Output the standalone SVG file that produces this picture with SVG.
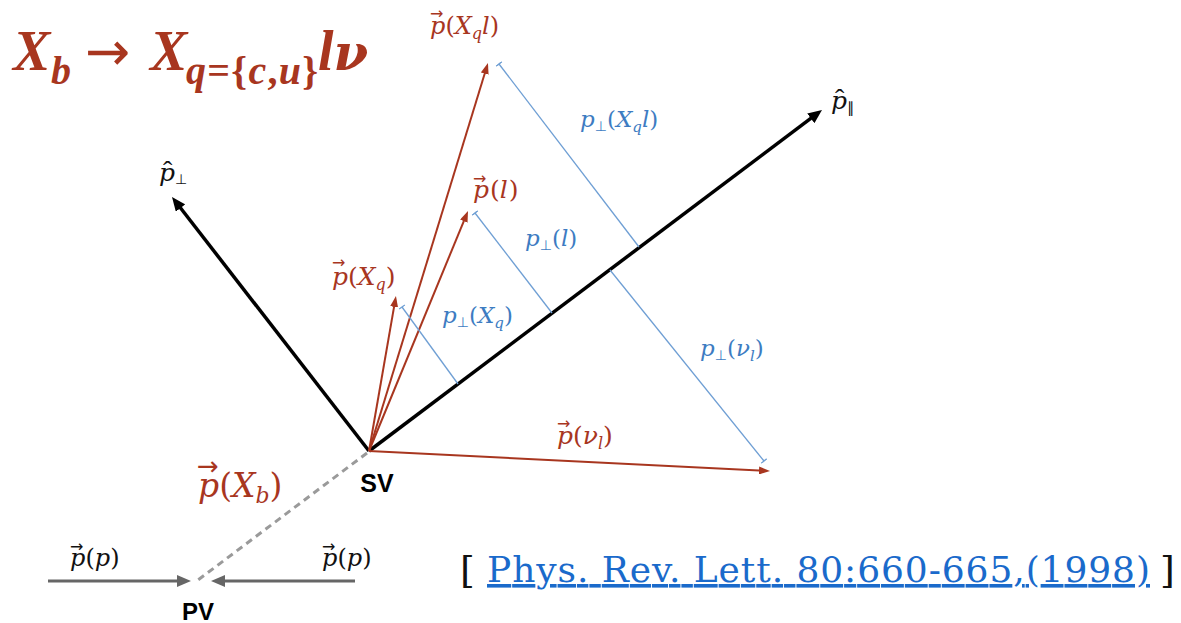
<svg xmlns="http://www.w3.org/2000/svg" width="1181" height="623" viewBox="0 0 1181 623">
<style>
.m{font-family:"DejaVu Serif","Liberation Serif",serif;font-style:italic}
.u{font-style:normal}
.r{fill:#a8361f}
.bl{fill:#3d7cc2}
.k{fill:#111}
.va{font-family:"DejaVu Sans",sans-serif;font-style:normal;font-size:16px}
.sb{font-family:"DejaVu Sans",sans-serif;font-style:normal;font-size:14px}
.ht{font-family:"Liberation Serif",serif;font-style:normal;font-size:28px}
.sv{font-family:"Liberation Sans",Arial,sans-serif;font-weight:bold;fill:#000}
.ax{stroke:#000;stroke-width:3.5;fill:none}
.rv{stroke:#a8361f;stroke-width:2;fill:none}
.pl{stroke:#6f9fd4;stroke-width:1.3;fill:none}
.gy{stroke:#666;stroke-width:3;fill:none}
</style>
<defs>
<marker id="ak" viewBox="0 0 14 12" refX="7" refY="6" markerWidth="14" markerHeight="12" orient="auto" markerUnits="userSpaceOnUse"><path d="M0,0 L14,6 L0,12 z" fill="#000"/></marker>
<marker id="ar" viewBox="0 0 11 8" refX="6" refY="4" markerWidth="11" markerHeight="8" orient="auto" markerUnits="userSpaceOnUse"><path d="M0,0 L11,4 L0,8 z" fill="#a8361f"/></marker>
<marker id="ag" viewBox="0 0 14 12" refX="7" refY="6" markerWidth="14" markerHeight="12" orient="auto" markerUnits="userSpaceOnUse"><path d="M0,0 L14,6 L0,12 z" fill="#666"/></marker>
<marker id="tk" viewBox="-1 -4 2 8" refX="0" refY="0" markerWidth="2" markerHeight="8" orient="auto" markerUnits="userSpaceOnUse"><path d="M0,-3.5 L0,3.5" stroke="#6f9fd4" stroke-width="1.3"/></marker>
</defs>

<g id="title">
<text class="r" font-family="Liberation Serif,serif" font-style="italic" font-weight="bold">
<tspan x="13" y="70" font-size="56">X</tspan><tspan x="51" y="84" font-size="40">b</tspan>
<tspan x="85" y="70" font-family="DejaVu Sans,sans-serif" font-style="normal" font-weight="normal" font-size="54">→</tspan>
<tspan x="150" y="70" font-size="56">X</tspan><tspan x="186" y="84" font-size="40" textLength="132">q<tspan class="u">={</tspan>c<tspan class="u">,</tspan>u<tspan class="u">}</tspan></tspan>
<tspan x="318" y="70" font-size="56">l</tspan><tspan font-family="DejaVu Serif,serif" font-size="50">ν</tspan>
</text>
</g>

<g id="connectors">
<line class="ax" x1="369" y1="451" x2="816.4" y2="114.2" marker-end="url(#ak)"/>
<line class="ax" x1="369" y1="451" x2="176.3" y2="202.5" marker-end="url(#ak)"/>
<line class="rv" x1="369" y1="451" x2="486.5" y2="67.8" marker-end="url(#ar)"/>
<line class="rv" x1="369" y1="451" x2="466.1" y2="215.6" marker-end="url(#ar)"/>
<line class="rv" x1="369" y1="451" x2="395.1" y2="300.9" marker-end="url(#ar)"/>
<line class="rv" x1="369" y1="451" x2="765" y2="470.75" marker-end="url(#ar)"/>
<line class="pl" x1="499" y1="64" x2="639" y2="247" marker-start="url(#tk)"/>
<line class="pl" x1="475" y1="213" x2="552" y2="313" marker-start="url(#tk)"/>
<line class="pl" x1="402" y1="307" x2="458" y2="384" marker-start="url(#tk)"/>
<line class="pl" x1="610" y1="270" x2="764" y2="461" marker-end="url(#tk)"/>
<line x1="367" y1="453" x2="198" y2="580" stroke="#9a9a9a" stroke-width="3" stroke-dasharray="7 5"/>
<line class="gy" x1="48" y1="581" x2="184" y2="581" marker-end="url(#ag)"/>
<line class="gy" x1="355" y1="581" x2="218" y2="581" marker-end="url(#ag)"/>
</g>

<g id="axis-par">
<text class="m k" font-size="25"><tspan class="ht" x="835" y="108">ˆ</tspan><tspan x="831" y="109">p</tspan><tspan class="u" font-size="15" dy="4" font-family="DejaVu Sans,sans-serif">∥</tspan></text>
</g>
<g id="axis-perp">
<text class="m k" font-size="25"><tspan class="ht" x="163" y="180">ˆ</tspan><tspan x="159" y="181">p</tspan><tspan class="sb" dy="3">⊥</tspan></text>
</g>

<g id="vec-Xql">
<text class="m r" font-size="24"><tspan class="va" x="430" y="19">→</tspan><tspan x="430" y="34">p</tspan><tspan class="u">(</tspan>X<tspan font-size="16" dy="5">q</tspan><tspan dy="-5">l</tspan><tspan class="u">)</tspan></text>
</g>
<g id="vec-l">
<text class="m r" font-size="25"><tspan class="va" x="473" y="184">→</tspan><tspan x="473" y="198">p</tspan><tspan class="u" dx="1">(</tspan>l<tspan class="u" dx="1">)</tspan></text>
</g>
<g id="vec-Xq">
<text class="m r" font-size="25"><tspan class="va" x="332" y="268">→</tspan><tspan x="332" y="285">p</tspan><tspan class="u">(</tspan>X<tspan font-size="16" dy="5">q</tspan><tspan class="u" dy="-5">)</tspan></text>
</g>
<g id="vec-nu">
<text class="m r" font-size="25"><tspan class="va" x="557" y="429">→</tspan><tspan x="557" y="444">p</tspan><tspan class="u">(</tspan>ν<tspan font-size="16" dy="5">l</tspan><tspan class="u" dy="-5">)</tspan></text>
</g>
<g id="vec-Xb">
<text class="m r" font-size="33"><tspan class="va" x="197" y="475" style="font-size:26px">→</tspan><tspan x="198" y="497">p</tspan><tspan class="u">(</tspan>X<tspan font-size="22" dy="6">b</tspan><tspan class="u" dy="-6">)</tspan></text>
</g>

<g id="perp-Xql">
<text class="m bl" x="580" y="127" font-size="23">p<tspan class="sb" dy="4">⊥</tspan><tspan class="u" dy="-4">(</tspan>X<tspan font-size="15" dy="5">q</tspan><tspan dy="-5">l</tspan><tspan class="u">)</tspan></text>
</g>
<g id="perp-l">
<text class="m bl" x="525" y="246" font-size="23">p<tspan class="sb" dy="4">⊥</tspan><tspan class="u" dy="-4">(</tspan>l<tspan class="u">)</tspan></text>
</g>
<g id="perp-Xq">
<text class="m bl" x="442" y="323" font-size="23">p<tspan class="sb" dy="4">⊥</tspan><tspan class="u" dy="-4">(</tspan>X<tspan font-size="15" dy="5">q</tspan><tspan class="u" dy="-5">)</tspan></text>
</g>
<g id="perp-nu">
<text class="m bl" x="700" y="356" font-size="23">p<tspan class="sb" dy="4">⊥</tspan><tspan class="u" dy="-4">(</tspan>ν<tspan font-size="15" dy="5">l</tspan><tspan class="u" dy="-5">)</tspan></text>
</g>

<g id="SV"><text class="sv" x="377" y="492" font-size="25" text-anchor="middle">SV</text></g>
<g id="PV"><text class="sv" x="198" y="620" font-size="24" text-anchor="middle">PV</text></g>

<g id="pp-left">
<text class="m k" font-size="24"><tspan class="va" x="70" y="552">→</tspan><tspan x="70" y="566">p</tspan><tspan class="u">(</tspan>p<tspan class="u">)</tspan></text>
</g>
<g id="pp-right">
<text class="m k" font-size="24"><tspan class="va" x="322" y="552">→</tspan><tspan x="322" y="566">p</tspan><tspan class="u">(</tspan>p<tspan class="u">)</tspan></text>
</g>

<g id="citation">
<text x="460" y="583" font-family="DejaVu Serif,serif" font-size="38" fill="#111">[</text>
<text x="487" y="582" font-family="DejaVu Serif,serif" font-size="36" fill="#1a6acb" textLength="663" lengthAdjust="spacing" text-decoration="underline">Phys. Rev. Lett. 80:660-665,(1998)</text>
<text x="1160" y="583" font-family="DejaVu Serif,serif" font-size="38" fill="#111">]</text>
</g>
</svg>
